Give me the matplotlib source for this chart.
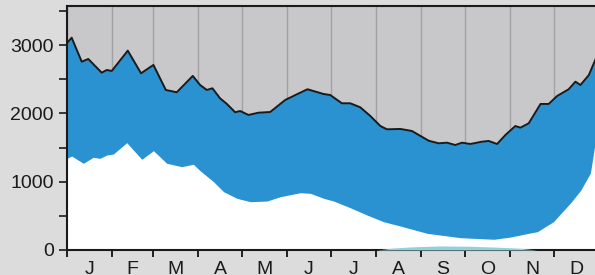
import numpy as np
import matplotlib
matplotlib.use("Agg")
import matplotlib.pyplot as plt

plt.rcParams['font.family'] = ['Liberation Sans', 'DejaVu Sans']

# day of year, upper envelope (black line)
top_days = [0, 3.2, 10.1, 14.6, 23.8, 27.3, 30.7, 41.7, 50.8, 59.3, 67.8, 75.3,
            86.3, 91.3, 95.9, 99.8, 105, 109.7, 115.4, 118.8, 124.5, 131.4, 139.4,
            149.7, 157.7, 165, 176, 180.6, 188.6, 194.3, 201.2, 208.1, 215, 219.5,
            228.7, 236.7, 248.1, 255, 260.7, 266.4, 271, 276.7, 284.8, 289.3, 295.1,
            300.8, 307.6, 311.1, 316.8, 324.9, 330.5, 336.3, 344.2, 348.8, 352.3,
            358, 362.6, 365]
top_vals = [3030, 3108, 2757, 2796, 2596, 2635, 2621, 2918, 2587, 2709, 2343, 2309,
            2548, 2416, 2343, 2367, 2221, 2138, 2016, 2035, 1977, 2010, 2020,
            2196, 2279, 2353, 2284, 2269, 2148, 2148, 2089, 1962, 1815, 1767,
            1772, 1742, 1600, 1562, 1571, 1537, 1571, 1552, 1586, 1596, 1552,
            1684, 1815, 1791, 1855, 2138, 2138, 2255, 2353, 2464, 2416,
            2560, 2790, 2950]

# lower (white) series
low_days = [0, 3.2, 11.2, 18, 22.6, 27.3, 31.8, 41, 45.5, 51.3, 59.3, 68.4, 78.7,
            86.7, 91.3, 100.5, 107.4, 116.5, 125.7, 137.2, 146.3, 160, 166.9, 176,
            182.9, 194.3, 205.8, 217.2, 228.7, 247.1, 270, 292.9, 304.4, 316.8,
            322.7, 333.7, 345.4, 352.3, 359.1, 362.6, 365]
low_vals = [1342, 1376, 1269, 1357, 1342, 1391, 1405, 1571, 1464, 1328, 1454, 1269,
            1220, 1255, 1161, 1000, 854, 757, 707, 717, 780, 839, 830, 757,
            717, 619, 512, 414, 351, 244, 180, 157, 190, 245,
            268, 414, 688, 870, 1127, 1600, 1900]

# small teal series near zero
teal_days = [212.7, 221.8, 235.5, 256, 276.7, 297, 311, 322.5]
teal_vals = [0, 25, 45, 60, 55, 40, 25, 0]

month_edges = [0, 31, 59, 90, 120, 151, 181, 212, 243, 273, 304, 334, 365]
month_labels = ['J', 'F', 'M', 'A', 'M', 'J', 'J', 'A', 'S', 'O', 'N', 'D']

fig = plt.figure(figsize=(5.95, 2.75), dpi=100, facecolor='#dcdcdd')
ax = fig.add_axes([67 / 595, 1 - 250 / 275, 532 / 595, 244 / 275])
ax.set_facecolor('#c8c8ca')

for e in month_edges:
    ax.axvline(e, color='#a2a2a4', lw=1, zorder=0)

ax.fill_between(top_days, 0, top_vals, color='#2b92d2', lw=0, zorder=1)
ax.fill_between(low_days, 0, low_vals, color='white', lw=0, zorder=2)
ax.fill_between(teal_days, 0, teal_vals, color='#93d1da', lw=0, zorder=3)
ax.plot(top_days, top_vals, color='#1a1a1a', lw=1.4, zorder=4,
        solid_joinstyle='round')

ax.set_xlim(0, 365)
ax.set_ylim(0, 3572)

ax.set_yticks([0, 1000, 2000, 3000])
ax.set_yticks([500, 1500, 2500, 3500], minor=True)
ax.set_xticks(month_edges)
ax.set_xticklabels([])
mids = [(a + b) / 2 for a, b in zip(month_edges[:-1], month_edges[1:])]
ax.set_xticks(mids, minor=True)
ax.set_xticklabels(month_labels, minor=True)

ax.tick_params(axis='y', which='both', length=6, width=1.2, pad=3.5,
               labelsize=14, colors='#1a1a1a')
ax.tick_params(axis='x', which='major', length=5, width=1.2)
ax.tick_params(axis='x', which='minor', length=0, pad=8, labelsize=14,
               colors='#1a1a1a')

for side in ['left', 'bottom', 'top']:
    ax.spines[side].set_linewidth(1.5)
    ax.spines[side].set_color('#1a1a1a')
ax.spines['right'].set_visible(False)

fig.savefig('out.png', dpi=100, facecolor=fig.get_facecolor())
